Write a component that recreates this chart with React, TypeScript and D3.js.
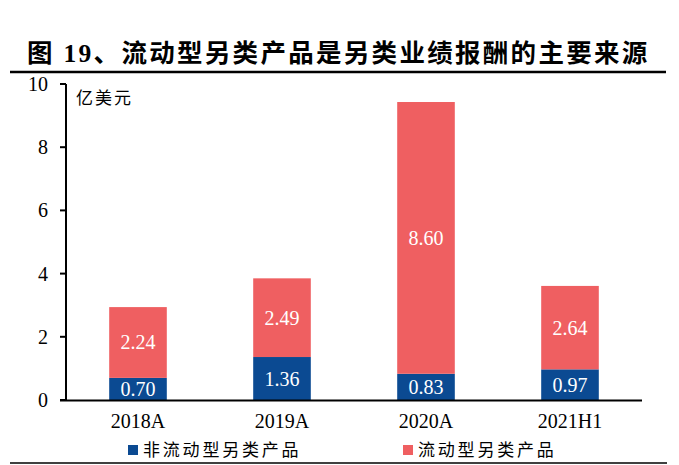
import React from "react";
import * as d3 from "d3";

const categories = ["2018A", "2019A", "2020A", "2021H1"];
const illiquid = [0.7, 1.36, 0.83, 0.97];
const liquid = [2.24, 2.49, 8.6, 2.64];
const yTicks = [0, 2, 4, 6, 8, 10];
const seriesNames = ["非流动型另类产品", "流动型另类产品"];
const title = "图 19、流动型另类产品是另类业绩报酬的主要来源";
const unit = "亿美元";

const W = 679;
const H = 465;
const BLUE = "#0B4A92";
const RED = "#EF5F61";
const serif = "Liberation Serif, Times New Roman, serif";
const cjk = "Liberation Serif, Noto Sans CJK SC, serif";

export default function App() {
  const x = d3.scaleBand<string>().domain(categories).range([66, 642]).paddingInner(0.6).paddingOuter(0.3);
  const y = d3.scaleLinear().domain([0, 10]).range([400, 84]);
  const stack = d3.stack<any>().keys(["illiquid", "liquid"]);
  const rows = categories.map((c, i) => ({ cat: c, illiquid: illiquid[i], liquid: liquid[i] }));
  const series = stack(rows);
  const colors = [BLUE, RED];

  return (
    <svg width={W} height={H} style={{ position: "absolute", left: 0, top: 0, background: "#fff" }}>
      <text x={27} y={62} fontFamily={cjk} fontWeight="bold" fontSize={25.5} fill="#000" letterSpacing={2.3}>
        {title}
      </text>
      <line x1={10} x2={666} y1={72} y2={72} stroke="#000" strokeWidth={2.5} />
      {series.map((s, si) =>
        s.map((d, i) => {
          const x0 = x(categories[i])!;
          const top = y(d[1]);
          const bot = y(d[0]);
          const v = si === 0 ? illiquid[i] : liquid[i];
          return (
            <g key={`${si}-${i}`}>
              <rect x={x0} y={top} width={x.bandwidth()} height={bot - top} fill={colors[si]} />
              <text
                x={x0 + x.bandwidth() / 2}
                y={(top + bot) / 2 + 7}
                textAnchor="middle"
                fontFamily={serif}
                fontSize={20}
                fill="#fff"
              >
                {v.toFixed(2)}
              </text>
            </g>
          );
        })
      )}
      <line x1={66} x2={66} y1={84} y2={401} stroke="#000" strokeWidth={2} />
      <line x1={60} x2={642} y1={400.5} y2={400.5} stroke="#000" strokeWidth={2} />
      {yTicks.map((t) => (
        <g key={t}>
          <line x1={60} x2={66} y1={y(t)} y2={y(t)} stroke="#000" strokeWidth={2} />
          <text x={48} y={y(t) + 7} textAnchor="end" fontFamily={serif} fontSize={20} fill="#000">
            {t}
          </text>
        </g>
      ))}
      <text x={76} y={104} fontFamily={cjk} fontSize={17} fill="#000" letterSpacing={2}>
        {unit}
      </text>
      {categories.map((c) => (
        <text
          key={c}
          x={x(c)! + x.bandwidth() / 2}
          y={428}
          textAnchor="middle"
          fontFamily={serif}
          fontSize={20}
          fill="#000"
        >
          {c}
        </text>
      ))}
      <rect x={128} y={445} width={10} height={10} fill={BLUE} />
      <text x={143} y={456} fontFamily={cjk} fontSize={17} fill="#000" letterSpacing={2.8}>
        {seriesNames[0]}
      </text>
      <rect x={403} y={445} width={10} height={10} fill={RED} />
      <text x={418} y={456} fontFamily={cjk} fontSize={17} fill="#000" letterSpacing={2.8}>
        {seriesNames[1]}
      </text>
      <line x1={10} x2={667} y1={463} y2={463} stroke="#000" strokeWidth={1.5} />
    </svg>
  );
}
